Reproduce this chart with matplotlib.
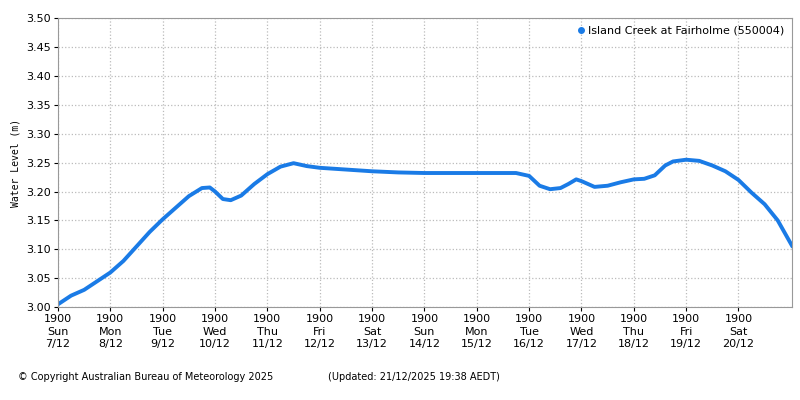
import matplotlib.pyplot as plt
from matplotlib.lines import Line2D

# days since Sun 7/12 19:00, water level (m)
days = [0.0, 0.25, 0.5, 0.75, 1.0, 1.25, 1.5, 1.75, 2.0, 2.25, 2.5, 2.75, 2.9, 3.0,
        3.15, 3.3, 3.5, 3.75, 4.0, 4.25, 4.5, 4.75, 5.0, 5.5, 6.0, 6.5, 7.0, 7.5,
        8.0, 8.5, 8.75, 9.0, 9.2, 9.4, 9.6, 9.75, 9.9, 10.0, 10.25, 10.5, 10.75,
        11.0, 11.2, 11.4, 11.6, 11.75, 12.0, 12.25, 12.5, 12.75, 13.0, 13.25,
        13.5, 13.75, 14.03]
level = [3.005, 3.02, 3.03, 3.045, 3.06, 3.08, 3.105, 3.13, 3.152, 3.172, 3.192, 3.206,
         3.207, 3.2, 3.187, 3.185, 3.193, 3.213, 3.23, 3.243, 3.249, 3.244, 3.241,
         3.238, 3.235, 3.233, 3.232, 3.232, 3.232, 3.232, 3.232, 3.227, 3.21, 3.204,
         3.206, 3.213, 3.221, 3.218, 3.208, 3.21, 3.216, 3.221, 3.222, 3.228,
         3.245, 3.252, 3.255, 3.253, 3.245, 3.235, 3.22, 3.198, 3.178, 3.15, 3.105]

tick_labels = ["1900\nSun\n7/12", "1900\nMon\n8/12", "1900\nTue\n9/12", "1900\nWed\n10/12",
               "1900\nThu\n11/12", "1900\nFri\n12/12", "1900\nSat\n13/12", "1900\nSun\n14/12",
               "1900\nMon\n15/12", "1900\nTue\n16/12", "1900\nWed\n17/12", "1900\nThu\n18/12",
               "1900\nFri\n19/12", "1900\nSat\n20/12"]

plt.rcParams["font.family"] = "DejaVu Sans"
fig = plt.figure(figsize=(8, 4), dpi=100)
ax = fig.add_axes([0.0725, 0.232, 0.918, 0.723])
ax.plot(days, level, color="#1a7be6", lw=2.8, solid_capstyle="round")
ax.set_xlim(0, 14.03)
ax.set_ylim(3.0, 3.5)
ax.set_xticks(range(14))
ax.set_xticklabels(tick_labels, fontsize=8, linespacing=1.3)
ax.set_yticks([3.0 + 0.05 * i for i in range(11)])
ax.set_yticklabels([f"{3.0 + 0.05 * i:.2f}" for i in range(11)], fontsize=8)
ax.tick_params(length=3, pad=2)
ax.grid(True, color="#bbbbbb", linestyle=":", linewidth=0.9)
ax.set_ylabel("Water Level (m)", fontsize=7, family="DejaVu Sans Mono")
for s in ax.spines.values():
    s.set_color("#999999")
handle = Line2D([], [], ls="none", marker="o", ms=4, color="#1a7be6")
ax.legend([handle], ["Island Creek at Fairholme (550004)"], loc="upper right",
          frameon=False, fontsize=8, handlelength=0.6, handletextpad=0.4,
          borderaxespad=0.3)
fig.text(0.022, 0.05, "© Copyright Australian Bureau of Meteorology 2025", fontsize=7)
fig.text(0.41, 0.05, "(Updated: 21/12/2025 19:38 AEDT)", fontsize=7)
fig.savefig("out.png")
